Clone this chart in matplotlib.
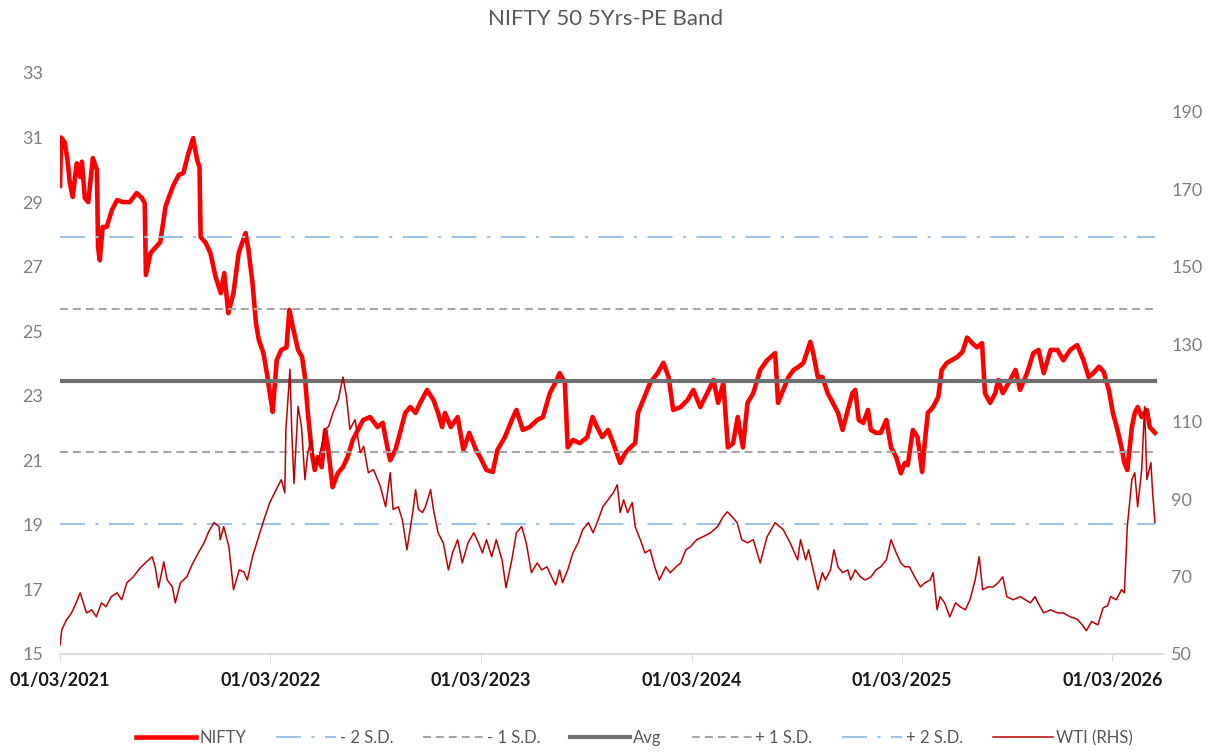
import matplotlib
matplotlib.use("Agg")
import matplotlib.pyplot as plt
import pandas as pd

plt.rcParams['font.family'] = ['Lato', 'DejaVu Sans']

# NIFTY 50 trailing PE
nifty_dates = [
    "2021-03-01", "2021-03-03", "2021-03-09", "2021-03-14", "2021-03-18", "2021-03-23", "2021-03-30",
    "2021-04-05", "2021-04-08", "2021-04-13", "2021-04-19", "2021-04-27", "2021-05-04", "2021-05-06",
    "2021-05-09", "2021-05-14", "2021-05-21", "2021-05-30", "2021-06-08", "2021-06-18", "2021-06-30",
    "2021-07-12", "2021-07-21", "2021-07-26", "2021-07-28", "2021-08-05", "2021-08-13", "2021-08-22",
    "2021-08-31", "2021-09-06", "2021-09-14", "2021-09-23", "2021-10-01", "2021-10-10", "2021-10-18",
    "2021-10-25", "2021-10-29", "2021-10-31", "2021-11-09", "2021-11-17", "2021-11-26", "2021-12-05",
    "2021-12-11", "2021-12-18", "2021-12-27", "2022-01-05", "2022-01-17", "2022-01-22", "2022-01-29",
    "2022-02-04", "2022-02-09", "2022-02-17", "2022-02-24", "2022-02-28", "2022-03-05", "2022-03-12",
    "2022-03-20", "2022-03-29", "2022-04-03", "2022-04-09", "2022-04-18", "2022-04-25", "2022-04-30",
    "2022-05-05", "2022-05-12", "2022-05-17", "2022-05-22", "2022-05-29", "2022-06-04", "2022-06-09",
    "2022-06-17", "2022-06-26", "2022-07-05", "2022-07-13", "2022-07-22", "2022-07-31", "2022-08-09",
    "2022-08-21", "2022-09-03", "2022-09-12", "2022-09-20", "2022-09-25", "2022-10-04", "2022-10-12",
    "2022-10-21", "2022-10-30", "2022-11-08", "2022-11-16", "2022-11-28", "2022-12-09", "2022-12-17",
    "2022-12-24", "2022-12-29", "2023-01-08", "2023-01-20", "2023-01-30", "2023-02-09", "2023-02-21",
    "2023-02-28", "2023-03-11", "2023-03-22", "2023-03-30", "2023-04-12", "2023-04-24", "2023-05-02",
    "2023-05-13", "2023-05-25", "2023-06-07", "2023-06-17", "2023-06-29", "2023-07-11", "2023-07-16",
    "2023-07-25", "2023-07-30", "2023-08-08", "2023-08-20", "2023-09-02", "2023-09-11", "2023-09-19",
    "2023-09-28", "2023-10-08", "2023-10-17", "2023-10-29", "2023-11-07", "2023-11-16", "2023-11-24",
    "2023-11-29", "2023-12-08", "2023-12-20", "2024-01-02", "2024-01-12", "2024-01-21", "2024-01-29",
    "2024-02-11", "2024-02-23", "2024-03-04", "2024-03-16", "2024-03-28", "2024-04-08", "2024-04-16",
    "2024-04-25", "2024-05-03", "2024-05-12", "2024-05-20", "2024-05-29", "2024-06-06", "2024-06-16",
    "2024-06-28", "2024-07-10", "2024-07-24", "2024-07-29", "2024-08-07", "2024-08-16", "2024-08-25",
    "2024-09-03", "2024-09-11", "2024-09-23", "2024-09-28", "2024-10-06", "2024-10-14", "2024-10-23",
    "2024-11-01", "2024-11-10", "2024-11-18", "2024-11-27", "2024-12-05", "2024-12-10", "2024-12-16",
    "2024-12-24", "2025-01-01", "2025-01-06", "2025-01-15", "2025-01-23", "2025-02-02", "2025-02-10",
    "2025-02-19", "2025-02-27", "2025-03-06", "2025-03-11", "2025-03-20", "2025-03-28", "2025-04-05",
    "2025-04-10", "2025-04-15", "2025-04-24", "2025-05-03", "2025-05-09", "2025-05-18", "2025-05-26",
    "2025-06-05", "2025-06-14", "2025-06-22", "2025-07-01", "2025-07-09", "2025-07-18", "2025-07-23",
    "2025-08-01", "2025-08-10", "2025-08-15", "2025-08-23", "2025-09-05", "2025-09-14", "2025-09-22",
    "2025-10-04", "2025-10-15", "2025-10-24", "2025-11-02", "2025-11-14", "2025-11-26", "2025-12-06",
    "2025-12-18", "2025-12-30", "2026-01-10", "2026-01-19", "2026-01-27", "2026-02-06", "2026-02-14",
    "2026-02-23", "2026-03-02", "2026-03-10", "2026-03-17", "2026-03-22", "2026-03-27", "2026-04-04",
    "2026-04-09", "2026-04-14", "2026-04-21", "2026-04-30", "2026-05-05", "2026-05-14",
]
nifty_pe = [
    29.5, 31.0, 30.86, 30.3, 29.6, 29.16, 30.2,
    29.78, 30.25, 29.13, 29.0, 30.36, 30.0, 27.6,
    27.2, 28.23, 28.23, 28.75, 29.06, 29.0, 29.0,
    29.28, 29.13, 28.97, 26.74, 27.42, 27.58, 27.76,
    28.85, 29.16, 29.53, 29.84, 29.9, 30.52, 30.98,
    30.3, 30.09, 27.92, 27.73, 27.42, 26.68, 26.18,
    26.8, 25.56, 26.18, 27.42, 28.04, 27.52, 26.49,
    25.25, 24.73, 24.32, 23.58, 23.08, 22.5, 24.1,
    24.42, 24.5, 25.66, 25.13, 24.42, 24.2, 23.58,
    22.47, 21.23, 20.7, 21.1, 20.79, 21.94, 21.4,
    20.17, 20.6, 20.79, 21.1, 21.63, 21.94, 22.25,
    22.34, 22.03, 22.16, 21.4, 21.0, 21.32, 21.85,
    22.47, 22.65, 22.47, 22.78, 23.18, 22.87, 22.47,
    22.03, 22.47, 22.03, 22.34, 21.32, 21.85, 21.32,
    21.1, 20.7, 20.64, 21.32, 21.72, 22.25, 22.56,
    21.94, 22.03, 22.25, 22.34, 23.08, 23.49, 23.7,
    23.4, 21.4, 21.63, 21.53, 21.72, 22.34, 22.03,
    21.72, 21.94, 21.53, 20.92, 21.23, 21.4, 21.53,
    22.47, 22.87, 23.4, 23.7, 24.02, 23.58, 22.56,
    22.65, 22.87, 23.18, 22.65, 23.08, 23.49, 22.78,
    23.4, 21.4, 21.53, 22.34, 21.4, 22.78, 23.08,
    23.8, 24.1, 24.32, 22.78, 23.18, 23.58, 23.8,
    23.9, 24.02, 24.67, 24.32, 23.58, 23.58, 23.08,
    22.78, 22.47, 21.94, 22.56, 23.08, 23.18, 22.25,
    22.16, 22.56, 21.94, 21.85, 21.85, 22.25, 21.4,
    21.1, 20.6, 20.92, 20.85, 21.94, 21.72, 20.64,
    21.63, 22.47, 22.65, 22.96, 23.8, 24.02, 24.1,
    24.2, 24.36, 24.8, 24.63, 24.5, 24.63, 23.08,
    22.78, 23.08, 23.49, 23.08, 23.49, 23.8, 23.18,
    23.7, 24.32, 24.42, 23.7, 24.42, 24.42, 24.1,
    24.42, 24.57, 24.1, 23.58, 23.7, 23.9, 23.74,
    23.18, 22.47, 21.94, 21.4, 20.92, 20.7, 22.03,
    22.47, 22.65, 22.34, 22.56, 22.03, 21.85,
]

# WTI crude, USD/bbl (right axis)
wti_dates = [
    "2021-03-01", "2021-03-04", "2021-03-12", "2021-03-21", "2021-03-29", "2021-04-05", "2021-04-16",
    "2021-04-25", "2021-05-03", "2021-05-12", "2021-05-20", "2021-05-29", "2021-06-08", "2021-06-16",
    "2021-06-25", "2021-07-06", "2021-07-18", "2021-07-29", "2021-08-08", "2021-08-13", "2021-08-19",
    "2021-08-28", "2021-09-03", "2021-09-12", "2021-09-17", "2021-09-26", "2021-10-07", "2021-10-16",
    "2021-10-27", "2021-11-06", "2021-11-14", "2021-11-23", "2021-12-02", "2021-12-04", "2021-12-10",
    "2021-12-19", "2021-12-27", "2022-01-06", "2022-01-14", "2022-01-20", "2022-01-29", "2022-02-07",
    "2022-02-18", "2022-02-28", "2022-03-11", "2022-03-20", "2022-03-26", "2022-03-28", "2022-04-04",
    "2022-04-07", "2022-04-11", "2022-04-18", "2022-04-24", "2022-04-30", "2022-05-05", "2022-05-11",
    "2022-05-17", "2022-05-25", "2022-06-04", "2022-06-10", "2022-06-18", "2022-06-27", "2022-07-05",
    "2022-07-11", "2022-07-17", "2022-07-26", "2022-08-04", "2022-08-10", "2022-08-18", "2022-08-27",
    "2022-09-08", "2022-09-17", "2022-09-25", "2022-09-30", "2022-10-09", "2022-10-16", "2022-10-24",
    "2022-11-03", "2022-11-08", "2022-11-13", "2022-11-20", "2022-11-25", "2022-12-04", "2022-12-09",
    "2022-12-17", "2022-12-26", "2023-01-04", "2023-01-11", "2023-01-20", "2023-01-28", "2023-02-07",
    "2023-02-17", "2023-02-25", "2023-03-04", "2023-03-11", "2023-03-20", "2023-03-28", "2023-04-07",
    "2023-04-14", "2023-04-24", "2023-05-02", "2023-05-11", "2023-05-19", "2023-05-28", "2023-06-07",
    "2023-06-15", "2023-06-24", "2023-07-02", "2023-07-09", "2023-07-16", "2023-07-21", "2023-07-30",
    "2023-08-08", "2023-08-17", "2023-08-25", "2023-09-04", "2023-09-12", "2023-09-21", "2023-09-29",
    "2023-10-08", "2023-10-17", "2023-10-24", "2023-10-29", "2023-11-04", "2023-11-11", "2023-11-19",
    "2023-11-24", "2023-12-03", "2023-12-11", "2023-12-20", "2023-12-28", "2024-01-05", "2024-01-16",
    "2024-01-24", "2024-02-03", "2024-02-11", "2024-02-20", "2024-02-28", "2024-03-10", "2024-03-21",
    "2024-04-03", "2024-04-15", "2024-04-25", "2024-05-02", "2024-05-10", "2024-05-19", "2024-05-27",
    "2024-06-06", "2024-06-16", "2024-06-28", "2024-07-10", "2024-07-24", "2024-08-07", "2024-08-19",
    "2024-09-01", "2024-09-06", "2024-09-15", "2024-09-20", "2024-09-28", "2024-10-06", "2024-10-14",
    "2024-10-19", "2024-10-28", "2024-11-03", "2024-11-10", "2024-11-18", "2024-11-27", "2024-12-02",
    "2024-12-10", "2024-12-19", "2024-12-27", "2025-01-06", "2025-01-15", "2025-01-23", "2025-02-02",
    "2025-02-10", "2025-02-19", "2025-02-27", "2025-03-06", "2025-03-14", "2025-03-23", "2025-04-02",
    "2025-04-10", "2025-04-19", "2025-04-24", "2025-05-01", "2025-05-06", "2025-05-14", "2025-05-23",
    "2025-06-02", "2025-06-10", "2025-06-19", "2025-06-27", "2025-07-06", "2025-07-13", "2025-07-19",
    "2025-07-28", "2025-08-06", "2025-08-15", "2025-08-23", "2025-08-30", "2025-09-10", "2025-09-22",
    "2025-10-01", "2025-10-10", "2025-10-18", "2025-10-23", "2025-11-02", "2025-11-14", "2025-11-26",
    "2025-12-06", "2025-12-18", "2025-12-30", "2026-01-08", "2026-01-15", "2026-01-24", "2026-02-04",
    "2026-02-13", "2026-02-21", "2026-02-26", "2026-03-08", "2026-03-17", "2026-03-22", "2026-03-27",
    "2026-04-04", "2026-04-09", "2026-04-14", "2026-04-21", "2026-04-26", "2026-04-30", "2026-05-07",
    "2026-05-10", "2026-05-14",
]
wti_price = [
    52.3, 56.2, 58.8, 60.6, 63.2, 65.8, 60.6,
    61.4, 59.6, 63.2, 62.2, 64.8, 65.8, 64.0,
    68.4, 69.9, 72.2, 73.8, 75.1, 72.5, 67.1,
    73.8, 69.1, 67.3, 63.2, 68.4, 69.9, 73.0,
    76.1, 78.7, 81.6, 83.9, 82.9, 79.5, 82.9,
    77.7, 66.6, 71.7, 71.2, 69.1, 75.1, 79.5,
    84.7, 89.1, 92.4, 95.0, 91.6, 108.0, 123.5,
    108.0, 94.0, 113.9, 108.7, 95.0, 102.0, 105.4,
    98.4, 101.0, 108.0, 108.7, 112.4, 115.7, 121.5,
    116.5, 108.0, 110.5, 102.0, 103.6, 96.8, 97.6,
    93.2, 88.0, 96.8, 87.3, 88.0, 84.7, 76.9,
    86.5, 92.4, 87.3, 86.5, 88.0, 92.4, 87.3,
    81.3, 78.7, 71.7, 76.1, 79.5, 73.5, 78.7,
    81.3, 78.7, 76.1, 79.5, 75.1, 79.5, 74.3,
    67.1, 74.3, 81.3, 82.9, 78.7, 71.0, 73.5,
    71.7, 72.5, 69.9, 67.8, 71.7, 68.4, 71.7,
    76.1, 78.7, 82.1, 83.9, 81.3, 84.7, 88.0,
    89.8, 91.6, 93.7, 86.5, 89.8, 86.5, 89.1,
    82.9, 79.5, 76.1, 76.9, 72.5, 69.1, 72.5,
    71.0, 72.5, 73.5, 76.9, 77.7, 79.5, 80.3,
    81.3, 82.9, 85.5, 86.7, 85.5, 83.9, 79.5,
    78.7, 79.5, 73.5, 80.3, 83.9, 82.1, 78.7,
    74.3, 79.5, 74.3, 76.9, 71.7, 66.6, 71.0,
    69.1, 71.7, 76.9, 72.5, 71.0, 71.7, 69.1,
    71.7, 69.9, 69.1, 69.9, 71.7, 72.5, 74.3,
    79.5, 76.1, 73.5, 72.5, 72.5, 69.9, 67.3,
    68.4, 69.1, 71.0, 61.4, 64.8, 63.2, 59.6,
    63.2, 62.2, 61.4, 64.0, 69.1, 75.1, 66.6,
    67.3, 67.3, 68.4, 69.9, 64.8, 64.0, 64.8,
    64.0, 63.2, 64.8, 63.2, 60.6, 61.4, 60.6,
    60.6, 59.6, 59.0, 57.5, 56.0, 58.4, 57.5,
    61.9, 62.5, 64.8, 64.0, 66.6, 65.8, 82.9,
    95.0, 96.8, 88.0, 97.6, 113.9, 95.0, 99.4,
    91.6, 83.9,
]

# PE band: 5-year average and +/- 1, 2 standard deviations
band_labels = ["- 2 S.D.", "- 1 S.D.", "Avg", "+ 1 S.D.", "+ 2 S.D."]
band_levels = [19.03, 21.25, 23.47, 25.69, 27.91]

year_ticks = ["2021-03-01", "2022-03-01", "2023-03-01", "2024-03-01", "2025-03-01", "2026-03-01"]

sd2_style = dict(color="#9dc3e6", lw=1.5, linestyle=(0, (12, 5, 1.5, 5)))
sd1_style = dict(color="#a6a6a6", lw=1.5, linestyle=(0, (3.8, 2.4)))
avg_style = dict(color="#707070", lw=3.0, linestyle="-")
band_styles = [sd2_style, sd1_style, avg_style, sd1_style, sd2_style]

nd = pd.to_datetime(nifty_dates)
wd = pd.to_datetime(wti_dates)

fig = plt.figure(figsize=(12.25, 7.53), dpi=100)
ax = fig.add_axes([0.049, 0.1315, 0.9004, 0.7716])

handles = []
h, = ax.plot(nd, nifty_pe, color="#ff0000", lw=3.3, solid_joinstyle="round", zorder=2, label="NIFTY")
handles.append(h)
for level, label, style in zip(band_levels, band_labels, band_styles):
    h, = ax.plot([nd[0], nd[-1]], [level, level], zorder=3, label=label, **style)
    handles.append(h)

ax2 = ax.twinx()
h, = ax2.plot(wd, wti_price, color="#c00000", lw=1.1, label="WTI (RHS)")
handles.append(h)

ax.set_ylim(15, 33)
ax.set_yticks(range(15, 34, 2))
ax2.set_ylim(50, 200)
ax2.set_yticks(range(50, 191, 20))
ax.set_xlim(pd.Timestamp("2021-03-01"), pd.Timestamp("2026-05-28"))

ticks = pd.to_datetime(year_ticks)
ax.set_xticks(ticks)
ax.set_xticklabels([t.strftime("%d/%m/%Y") for t in ticks], fontweight="bold", color="#1a1a1a")

for a in (ax, ax2):
    for s in a.spines.values():
        s.set_visible(False)
ax.spines["bottom"].set_visible(True)
ax.spines["bottom"].set_color("#d9d9d9")
ax.spines["bottom"].set_linewidth(1.3)

ax.tick_params(axis="x", length=5, color="#d9d9d9", labelsize=13, pad=8)
ax.tick_params(axis="y", length=0, labelcolor="#7f7f7f", labelsize=13, pad=12)
ax2.tick_params(axis="y", length=0, labelcolor="#7f7f7f", labelsize=13, pad=6)

fig.text(0.494, 0.975, "NIFTY 50 5Yrs-PE Band", ha="center", va="center",
         fontsize=16, color="#595959")

fig.legend(handles, [h.get_label() for h in handles], loc="center",
           bbox_to_anchor=(0.518, 0.02), ncol=7, frameon=False, fontsize=12,
           handlelength=3.6, handletextpad=0.2, columnspacing=1.8, labelcolor="#595959")

fig.savefig("out.png", dpi=100)
